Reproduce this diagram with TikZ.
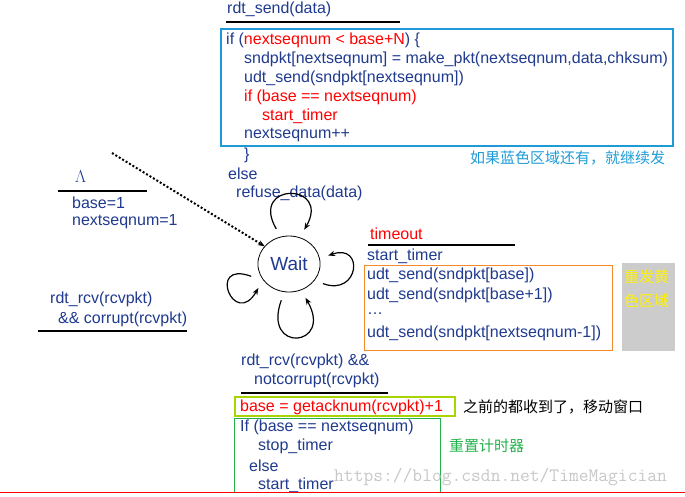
\documentclass[tikz,border=0pt]{standalone}
\usepackage{fontspec}
\setmainfont{Liberation Sans}
\newfontfamily\cjk{Noto Sans CJK SC}
\usetikzlibrary{arrows.meta, positioning, shapes.geometric}
\definecolor{navy}{HTML}{1F3A8F}
\definecolor{skyb}{HTML}{1E9BD7}
\definecolor{limeg}{HTML}{A8D400}
\definecolor{grn}{HTML}{22B14C}
\definecolor{orng}{HTML}{F58A2A}
\tikzset{
    txt/.style ={anchor=west, inner sep=0pt, text=navy, font=\fontsize{16}{18}\selectfont},
    note/.style ={anchor=west, inner sep=0pt, font=\cjk\fontsize{15}{17}\selectfont},
    rule/.style ={line width=1.6pt},
    selfloop/.style ={-{Stealth[length=7pt]}, line width=1.2pt, looseness=4},
}
\begin{document}
\begin{tikzpicture}[x=1pt, y=-1pt]
    \useasboundingbox (0,0) rectangle (685,496);
    % send event
    \node[txt] (send) at (227,9) {rdt\_send(data)};
    \draw[rule] (226,22) -- (400,22);
    \draw[skyb, line width=2.4pt] (221,29) rectangle (673,146);
    \node[txt] (l1) at (226,40) {if (\textcolor{red}{nextseqnum < base+N}) \{};
    \node[txt] (l2) at (244,59) {sndpkt[nextseqnum] = make\_pkt(nextseqnum,data,chksum)};
    \node[txt] (l3) at (244,78) {udt\_send(sndpkt[nextseqnum])};
    \node[txt, text=red] (l4) at (244,97) {if (base == nextseqnum)};
    \node[txt, text=red] (l5) at (262,116) {start\_timer};
    \node[txt] (l6) at (244,135) {nextseqnum++};
    \node[txt] (l7) at (244,155) {\}};
    \node[txt] (l8) at (228,174) {else};
    \node[txt] (l9) at (236,193) {refuse\_data(data)};
    \node[note, text=skyb] (n1) at (470,158) {如果蓝色区域还有，就继续发};
    % initial
    \node[txt, font=\fontsize{18}{18}\selectfont] (lam) at (75,177) {$\Lambda$};
    \draw[rule] (58,191) -- (147,191);
    \node[txt] (init1) at (72,203) {base=1};
    \node[txt] (init2) at (72,222) {nextseqnum=1};
    % state
    \node[draw, thick, ellipse, minimum width=58pt, minimum height=56pt, outer sep=9pt,
          text=navy, font=\fontsize{19}{20}\selectfont] (wait) at (289,264) {Wait};
    \coordinate (start) at (112,153);
    \draw[-{Stealth[length=7pt]}, dotted, line width=2pt, shorten >=-9pt] (start) -- (wait.145);
    \draw[selfloop, looseness=5] (wait.110) to[out=120, in=60] (wait.66);
    \draw[selfloop, looseness=3.5] (wait.-30) to[out=-20, in=20] (wait.12);
    \draw[selfloop, looseness=9] (wait.198) to[out=160, in=240] (wait.218);
    \draw[selfloop, looseness=6] (wait.258) to[out=250, in=300] (wait.296);
    % timeout
    \node[txt, text=red] (to) at (370,234) {timeout};
    \draw[rule] (368,245) -- (515,245);
    \node[txt] (t1) at (367,256) {start\_timer};
    \draw[orng, thick] (364,265) rectangle (612,350);
    \node[txt] (t2) at (367,275) {udt\_send(sndpkt[base])};
    \node[txt] (t3) at (367,295) {udt\_send(sndpkt[base+1])};
    \node[txt] (t4) at (367,314) {\dots};
    \node[txt] (t5) at (367,333) {udt\_send(sndpkt[nextseqnum-1])};
    \fill[black!20] (622,263) rectangle (675,351);
    \node[note, text=yellow] (n2) at (624,277) {重发黄};
    \node[note, text=yellow] (n3) at (624,301) {色区域};
    % corrupt
    \node[txt] (c1) at (50,299) {rdt\_rcv(rcvpkt)};
    \node[txt] (c2) at (58,319) {\&\& corrupt(rcvpkt)};
    \draw[rule] (38,331) -- (187,331);
    % ack
    \node[txt] (a1) at (241,361) {rdt\_rcv(rcvpkt) \&\&};
    \node[txt] (a2) at (254,380) {notcorrupt(rcvpkt)};
    \draw[rule] (241,393) -- (388,393);
    \draw[limeg, line width=2.4pt] (235,397) rectangle (455,416);
    \node[txt, text=red] (a3) at (240,407) {base = getacknum(rcvpkt)+1};
    \node[note] (n4) at (463,407) {之前的都收到了，移动窗口};
    \draw[grn, thick] (234,418) rectangle (440,492);
    \node[txt] (a4) at (240,427) {If (base == nextseqnum)};
    \node[txt] (a5) at (258,446) {stop\_timer};
    \node[txt] (a6) at (249,466) {else};
    \node[txt] (a7) at (258,485) {start\_timer};
    \node[note, text=grn] (n5) at (449,446) {重置计时器};
    \node[anchor=west, inner sep=0pt, text=black!22, font=\fontfamily{lmtt}\fontsize{19}{20}\selectfont] (wm) at (334,477) {https://blog.csdn.net/TimeMagician};
    \draw[red] (0,492) -- (685,492);
\end{tikzpicture}
\end{document}
